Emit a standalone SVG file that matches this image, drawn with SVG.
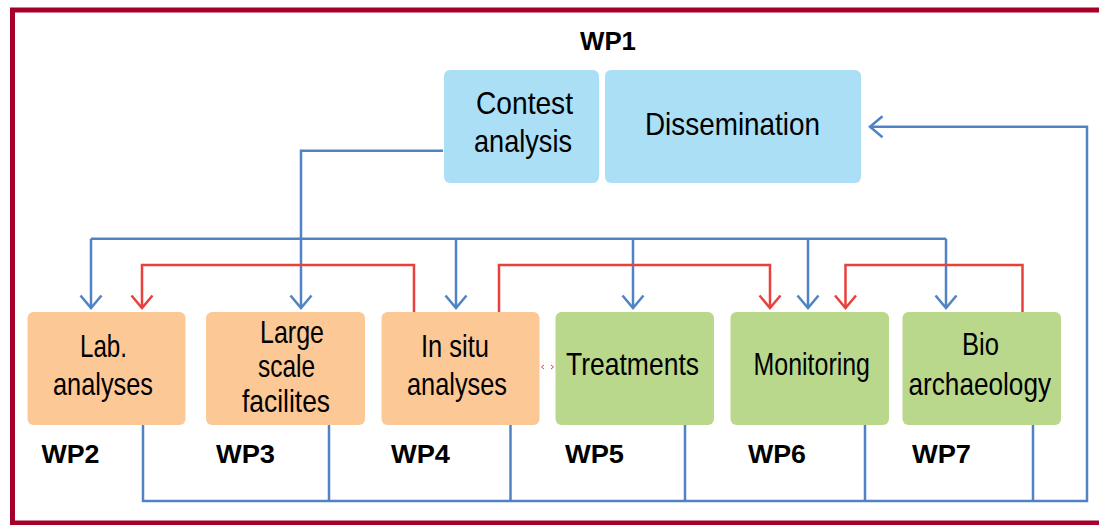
<svg xmlns="http://www.w3.org/2000/svg" width="1099" height="525" viewBox="0 0 1099 525">
<style>
.blue{fill:#abdff6}
.orange{fill:#fbc896}
.green{fill:#bad88c}
.t{font-family:"Liberation Sans",Arial,sans-serif;font-size:32px;fill:#000}
.wp{font-family:"Liberation Sans",Arial,sans-serif;font-size:25px;font-weight:bold;fill:#000}
.cb{fill:none;stroke:#5083c4;stroke-width:2.5}
.cr{fill:none;stroke:#e8413c;stroke-width:2.5}
</style>
<defs>
<marker id="ab" viewBox="-15 -15 30 30" refX="0" refY="0" markerWidth="30" markerHeight="30" markerUnits="userSpaceOnUse" orient="auto">
<path d="M-12.5,-10.5 L0,0 L-12.5,10.5" fill="none" stroke="#5083c4" stroke-width="2.5"/>
</marker>
<marker id="ar" viewBox="-15 -15 30 30" refX="0" refY="0" markerWidth="30" markerHeight="30" markerUnits="userSpaceOnUse" orient="auto">
<path d="M-12.5,-10.5 L0,0 L-12.5,10.5" fill="none" stroke="#e8413c" stroke-width="2.5"/>
</marker>
</defs>
<rect x="0" y="0" width="1099" height="525" fill="#ffffff"/>
<rect x="12.5" y="10" width="1095" height="513" fill="none" stroke="#a5002a" stroke-width="5"/>
<text class="wp" x="580" y="50" textLength="56" lengthAdjust="spacingAndGlyphs">WP1</text>
<g id="connectors">
<path class="cb" d="M443,150.7 H301 V308" marker-end="url(#ab)"/>
<path class="cb" d="M91,238.7 H946"/>
<path class="cb" d="M91,238.7 V308" marker-end="url(#ab)"/>
<path class="cb" d="M456,238.7 V308" marker-end="url(#ab)"/>
<path class="cb" d="M633,238.7 V308" marker-end="url(#ab)"/>
<path class="cb" d="M808,238.7 V308" marker-end="url(#ab)"/>
<path class="cb" d="M946,238.7 V308" marker-end="url(#ab)"/>
<path class="cb" d="M143,425 V501 H1087 V126.7 H870" marker-end="url(#ab)"/>
<path class="cb" d="M329,425 V501"/>
<path class="cb" d="M510.5,425 V501"/>
<path class="cb" d="M685,425 V501"/>
<path class="cb" d="M865,425 V501"/>
<path class="cb" d="M1033,425 V501"/>
<path class="cr" d="M414,312 V265 H142 V308" marker-end="url(#ar)"/>
<path class="cr" d="M499,312 V265 H770 V308" marker-end="url(#ar)"/>
<path class="cr" d="M1022.5,312 V265 H845.5 V308" marker-end="url(#ar)"/>
<path d="M544,365 L541.5,367 L544,369 M551,365 L553.5,367 L551,369" fill="none" stroke="#e8413c" stroke-width="1"/>
</g>
<g id="contest">
<rect class="blue" x="444" y="70" width="155" height="113" rx="6"/>
<text class="t" x="476" y="114" textLength="97" lengthAdjust="spacingAndGlyphs">Contest</text>
<text class="t" x="474" y="152" textLength="98" lengthAdjust="spacingAndGlyphs">analysis</text>
</g>
<g id="dissemination">
<rect class="blue" x="605" y="70" width="256" height="113" rx="6"/>
<text class="t" x="645" y="135" textLength="175" lengthAdjust="spacingAndGlyphs">Dissemination</text>
</g>
<g id="wp2">
<rect class="orange" x="27.5" y="312" width="158" height="113" rx="6"/>
<text class="t" x="80" y="357" textLength="47" lengthAdjust="spacingAndGlyphs">Lab.</text>
<text class="t" x="53" y="395" textLength="100" lengthAdjust="spacingAndGlyphs">analyses</text>
<text class="wp" x="41.5" y="463" textLength="58" lengthAdjust="spacingAndGlyphs">WP2</text>
</g>
<g id="wp3">
<rect class="orange" x="206" y="312" width="159" height="113" rx="6"/>
<text class="t" x="260" y="343" textLength="64" lengthAdjust="spacingAndGlyphs">Large</text>
<text class="t" x="258" y="377" textLength="57" lengthAdjust="spacingAndGlyphs">scale</text>
<text class="t" x="242" y="412" textLength="88" lengthAdjust="spacingAndGlyphs">facilites</text>
<text class="wp" x="216" y="463" textLength="59" lengthAdjust="spacingAndGlyphs">WP3</text>
</g>
<g id="wp4">
<rect class="orange" x="381.5" y="312" width="158" height="113" rx="6"/>
<text class="t" x="421" y="357" textLength="68" lengthAdjust="spacingAndGlyphs">In situ</text>
<text class="t" x="407" y="395" textLength="100" lengthAdjust="spacingAndGlyphs">analyses</text>
<text class="wp" x="391" y="463" textLength="59" lengthAdjust="spacingAndGlyphs">WP4</text>
</g>
<g id="wp5">
<rect class="green" x="555.5" y="312" width="158.5" height="113" rx="6"/>
<text class="t" x="566" y="375" textLength="133" lengthAdjust="spacingAndGlyphs">Treatments</text>
<text class="wp" x="565" y="463" textLength="59" lengthAdjust="spacingAndGlyphs">WP5</text>
</g>
<g id="wp6">
<rect class="green" x="730.5" y="312" width="158.5" height="113" rx="6"/>
<text class="t" x="753.5" y="375" textLength="116.5" lengthAdjust="spacingAndGlyphs">Monitoring</text>
<text class="wp" x="748" y="463" textLength="58" lengthAdjust="spacingAndGlyphs">WP6</text>
</g>
<g id="wp7">
<rect class="green" x="902.5" y="312" width="158.5" height="113" rx="6"/>
<text class="t" x="962" y="355" textLength="37" lengthAdjust="spacingAndGlyphs">Bio</text>
<text class="t" x="908.5" y="395" textLength="142.5" lengthAdjust="spacingAndGlyphs">archaeology</text>
<text class="wp" x="912" y="463" textLength="59" lengthAdjust="spacingAndGlyphs">WP7</text>
</g>
</svg>
